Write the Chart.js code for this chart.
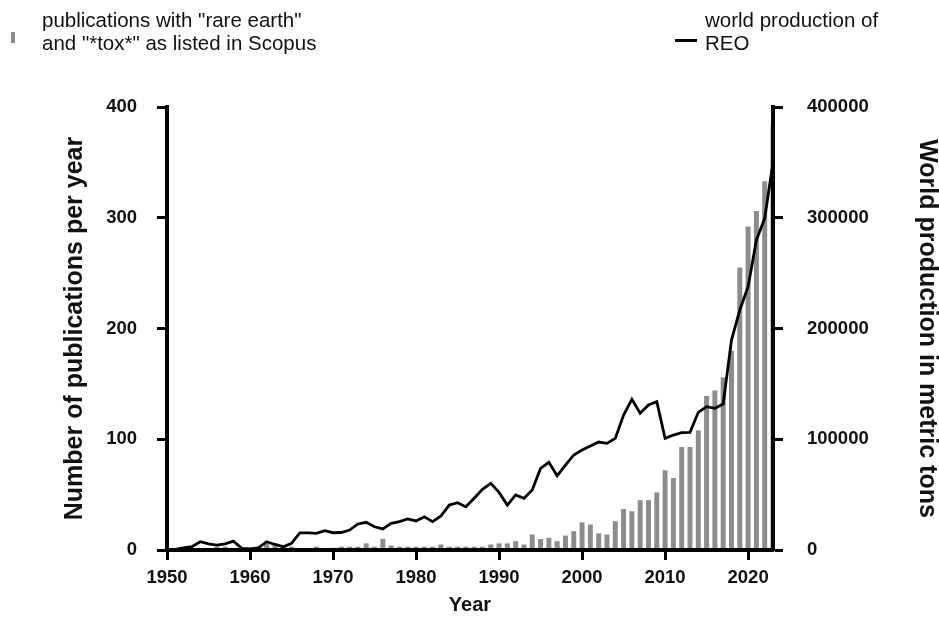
<!DOCTYPE html>
<html>
<head>
<meta charset="utf-8">
<script src="https://cdn.jsdelivr.net/npm/chart.js@4"></script>
<style>
  body { margin: 0; background: #fff; }
  #wrap { position: relative; width: 939px; height: 617px; font-family: "Liberation Sans", Arial, sans-serif; }
  canvas { position: absolute; left: 0; top: 0; }
  .lg { position: absolute; font-size: 20.5px; line-height: 23px; color: #111; white-space: nowrap; }
  .mk { position: absolute; }
</style>
</head>
<body>
<div id="wrap">
  <canvas id="myCanvas" width="939" height="617"></canvas>
  <div class="mk" style="left:11px;top:32px;width:4px;height:11px;background:#8c8c8c"></div>
  <div class="lg" style="left:42px;top:8px">publications with "rare earth"<br>and "*tox*" as listed in Scopus</div>
  <div class="mk" style="left:675px;top:39px;width:22px;height:3px;background:#000"></div>
  <div class="lg" style="left:705px;top:8px">world production of<br>REO</div>
</div>
<script>
const years = [
  1950, 1951, 1952, 1953, 1954, 1955, 1956, 1957, 1958, 1959,
  1960, 1961, 1962, 1963, 1964, 1965, 1966, 1967, 1968, 1969,
  1970, 1971, 1972, 1973, 1974, 1975, 1976, 1977, 1978, 1979,
  1980, 1981, 1982, 1983, 1984, 1985, 1986, 1987, 1988, 1989,
  1990, 1991, 1992, 1993, 1994, 1995, 1996, 1997, 1998, 1999,
  2000, 2001, 2002, 2003, 2004, 2005, 2006, 2007, 2008, 2009,
  2010, 2011, 2012, 2013, 2014, 2015, 2016, 2017, 2018, 2019,
  2020, 2021, 2022, 2023
];

// publications per year (left axis)
const publications = [
  0, 0, 0, 0, 0, 0, 3, 3, 0, 0,
  0, 0, 6, 5, 4, 3, 0, 0, 3, 0,
  2, 3, 3, 3, 6, 3, 10, 4, 3, 3,
  3, 3, 3, 5, 3, 3, 3, 3, 3, 5,
  6, 6, 8, 5, 14, 10, 11, 8, 13, 17,
  25, 23, 15, 14, 26, 37, 35, 45, 45, 52,
  72, 65, 93, 93, 108, 139, 144, 156, 180, 255,
  292, 306, 333, 384
];

// world REO production in metric tons (right axis)
const production = [
  0, 500, 2000, 3000, 7500, 5500, 4500, 5500, 8000, 1500,
  1000, 2000, 7500, 5000, 3000, 6000, 15500, 15500, 15000, 17500,
  15600, 15800, 18000, 23500, 25000, 21000, 19000, 24000, 25600, 28000,
  26200, 30000, 25600, 30700, 40600, 42700, 39100, 46700, 54800, 60200,
  52000, 40600, 49700, 46700, 54200, 73800, 79200, 67100, 76700, 85800,
  90300, 93900, 97500, 96300, 100800, 121900, 136000, 123400, 130900, 133900,
  100800, 103800, 105900, 106200, 124300, 129400, 127900, 131800, 189600, 216700,
  237700, 279900, 299500, 350000
];

const xTicks = [1950, 1960, 1970, 1980, 1990, 2000, 2010, 2020];
const yTicksLeft = [0, 100, 200, 300, 400];
const yTicksRight = [0, 100000, 200000, 300000, 400000];

const tickFont = { family: '"Liberation Sans", Arial, sans-serif', size: 18.5, weight: 'bold' };
const titleFont = { family: '"Liberation Sans", Arial, sans-serif', size: 25, weight: 'bold' };

const ctx = document.getElementById('myCanvas').getContext('2d');

const chart = new Chart(ctx, {
  type: 'bar',
  data: {
    datasets: [
      {
        type: 'line',
        label: 'world production of REO',
        data: years.map((y, i) => ({ x: y, y: production[i] })),
        yAxisID: 'y2',
        borderColor: '#000',
        borderWidth: 2.8,
        pointRadius: 0,
        tension: 0,
        fill: false
      },
      {
        type: 'bar',
        label: 'publications with "rare earth" and "*tox*" as listed in Scopus',
        data: years.map((y, i) => ({ x: y, y: publications[i] })),
        yAxisID: 'y',
        backgroundColor: '#8c8c8c',
        categoryPercentage: 1,
        barPercentage: 0.6
      }
    ]
  },
  options: {
    responsive: false,
    animation: false,
    layout: { padding: { top: 107, left: 0, right: 0, bottom: 0 } },
    plugins: { legend: { display: false }, tooltip: { enabled: false } },
    scales: {
      x: {
        type: 'linear',
        min: 1950,
        max: 2023,
        bounds: 'data',
        offset: false,
        afterFit: (s) => { s.height = 67; },
        afterBuildTicks: (s) => { s.ticks = xTicks.map(v => ({ value: v })); },
        grid: { offset: false, drawOnChartArea: false, drawTicks: true, tickLength: 10, tickWidth: 3, tickColor: '#000' },
        border: { display: true, color: '#000', width: 4, z: 1 },
        ticks: { autoSkip: false, maxRotation: 0, padding: 7, color: '#111', font: tickFont, callback: (v) => String(v) },
        title: { display: true, text: 'Year', color: '#111', font: { family: tickFont.family, size: 20, weight: 'bold' }, padding: { top: 0, bottom: 0 } }
      },
      y: {
        position: 'left',
        min: 0,
        max: 400,
        afterFit: (s) => { s.width = 167; },
        afterBuildTicks: (s) => { s.ticks = yTicksLeft.map(v => ({ value: v })); },
        grid: { drawOnChartArea: false, drawTicks: true, tickLength: 10, tickWidth: 3, tickColor: '#000' },
        border: { display: true, color: '#000', width: 4, z: 1 },
        ticks: { padding: 20, color: '#111', font: tickFont },
        title: { display: true, text: 'Number of publications per year', color: '#111', font: titleFont, padding: { top: 60, bottom: 0 } }
      },
      y2: {
        position: 'right',
        min: 0,
        max: 400000,
        afterFit: (s) => { s.width = 166; },
        afterBuildTicks: (s) => { s.ticks = yTicksRight.map(v => ({ value: v })); },
        grid: { drawOnChartArea: false, drawTicks: true, tickLength: 10, tickWidth: 3, tickColor: '#000' },
        border: { display: true, color: '#000', width: 4, z: 1 },
        ticks: { padding: 24, color: '#111', font: tickFont, callback: (v) => String(v) },
        title: { display: true, text: 'World production in metric tons', color: '#111', font: Object.assign({}, titleFont, { lineHeight: 1 }), padding: { top: 0, bottom: 0 } }
      }
    }
  }
});
</script>
</body>
</html>
